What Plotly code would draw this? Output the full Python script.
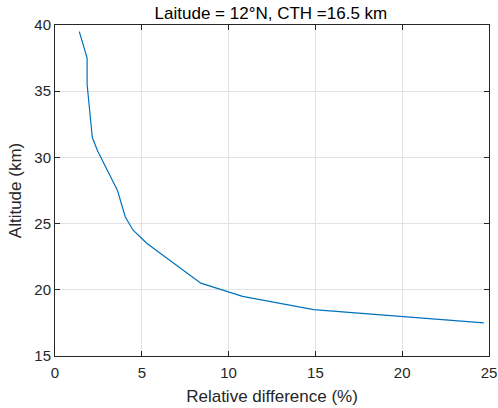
import plotly.graph_objects as go

rel_diff = [1.4, 1.85, 1.85, 2.15, 2.45, 3.6, 4.05, 4.5, 5.3, 6.35, 7.4, 8.4, 10.8, 14.9, 24.7]
altitude = [39.5, 37.5, 35.5, 31.5, 30.5, 27.5, 25.5, 24.5, 23.5, 22.5, 21.5, 20.5, 19.5, 18.5, 17.5]

x_ticks = [0, 5, 10, 15, 20, 25]
y_ticks = [15, 20, 25, 30, 35, 40]

FONT = "Liberation Sans, Arial"

fig = go.Figure()
fig.add_trace(go.Scatter(x=rel_diff, y=altitude, mode="lines",
                         line=dict(color="#0072BD", width=1.2), showlegend=False))

axis_common = dict(
    showline=True, linecolor="#262626", linewidth=1, mirror="ticks",
    ticks="inside", ticklen=5, tickcolor="#262626", tickwidth=1,
    showgrid=True, gridcolor="#e3e3e3", gridwidth=1, zeroline=False,
    automargin=False,
    tickfont=dict(family=FONT, size=15, color="#262626"),
)

fig.update_layout(
    width=498, height=408,
    margin=dict(l=55, r=9, t=25, b=52),
    paper_bgcolor="white", plot_bgcolor="white",
    title=dict(text="Laitude = 12°N, CTH =16.5 km", x=0.544, xanchor="center",
               y=0.968, yanchor="middle", automargin=False,
               font=dict(family=FONT, size=17, color="#000000")),
    xaxis=dict(range=[0, 25], tickvals=x_ticks, ticklabelstandoff=3,
               title=dict(text="Relative difference (%)", standoff=10,
                          font=dict(family=FONT, size=17, color="#262626")),
               **axis_common),
    yaxis=dict(range=[15, 40], tickvals=y_ticks,
               title=dict(text="Altitude (km)", standoff=8,
                          font=dict(family=FONT, size=17, color="#262626")),
               **axis_common),
)

fig.write_html("out.html", config={"displayModeBar": False},
               post_script="document.body.style.margin='0';document.body.style.overflow='hidden';")
